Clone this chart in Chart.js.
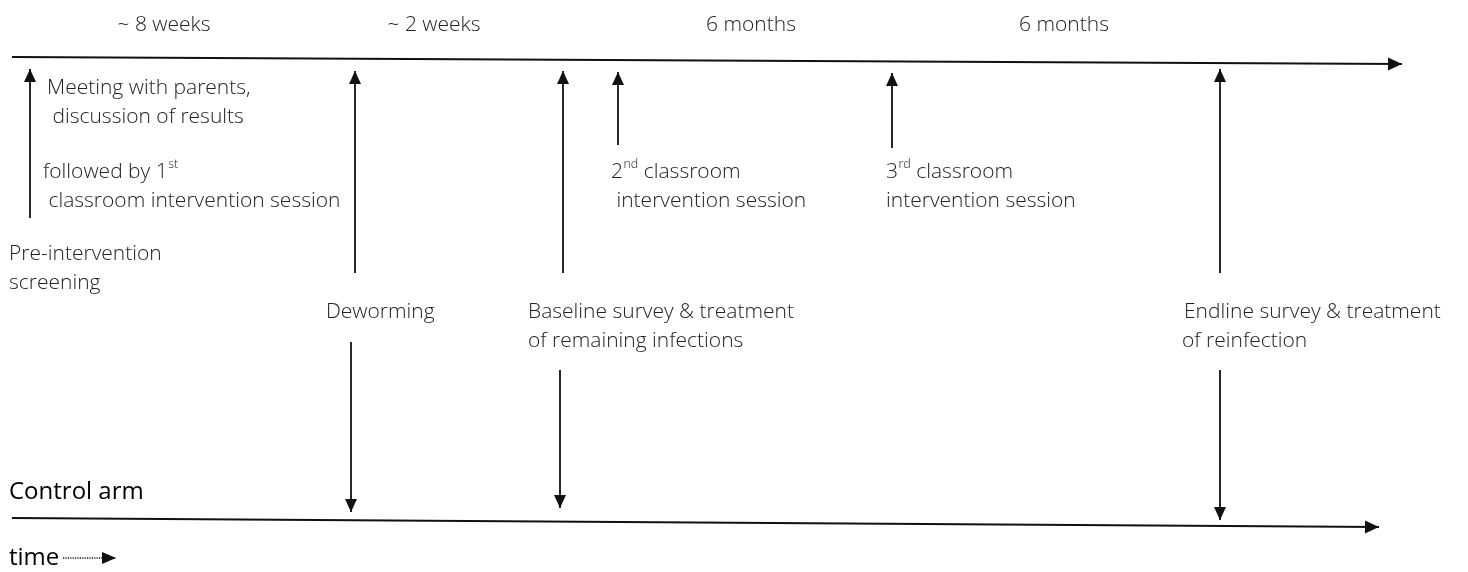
<!DOCTYPE html>
<html>
<head>
<meta charset="utf-8">
<script src="https://cdn.jsdelivr.net/npm/chart.js@4/dist/chart.umd.min.js"></script>
<style>
html,body{margin:0;padding:0;background:#fff;}
#wrap{width:1468px;height:572px;}
</style>
</head>
<body>
<div id="wrap"><canvas id="c" width="1468" height="572"></canvas></div>
<script>
// Diagram space: x 0..1468, y 0..572 (top = 0)
// Timelines [x, y] start and end
const interventionLine = [[12, 57], [1402, 64]];
const controlLine = [[12, 518], [1379, 527]];
const timeArrow = [[63, 558], [116, 558]];

// Upward event arrows (intervention arm)
const upX = [30, 355, 563, 618, 892, 1220];
const upFrom = [218, 273, 273, 145, 148, 273];
const upTo = [69, 71, 71, 72, 73, 69];

// Downward event arrows (control arm)
const downX = [351, 560, 1220];
const downFrom = [342, 370, 370];
const downTo = [512, 508, 520];

// Period labels above the timeline
const periodLabels = ['~ 8 weeks', '~ 2 weeks', '6 months', '6 months'];
const periodX = [164, 434, 751, 1064];
const periodY = [25, 25, 25, 25];

// Event label lines: [text, superscript, text after superscript]
const eventLines = [
  ['Meeting with parents,', '', ''],
  [' discussion of results', '', ''],
  ['followed by 1', 'st', ''],
  [' classroom intervention session', '', ''],
  ['Pre-intervention', '', ''],
  ['screening', '', ''],
  ['2', 'nd', ' classroom'],
  [' intervention session', '', ''],
  ['3', 'rd', ' classroom'],
  ['intervention session', '', ''],
  ['Deworming', '', ''],
  ['Baseline survey & treatment', '', ''],
  ['of remaining infections', '', ''],
  ['Endline survey & treatment', '', ''],
  ['of reinfection', '', '']
];
const eventX = [47, 47, 43, 43, 9, 9, 611, 611, 886, 886, 326, 528, 528, 1184, 1182];
const eventY = [88, 117, 172, 201, 254, 283, 172, 201, 172, 201, 312, 312, 341, 312, 341];

const armLabel = 'Control arm';
const armPos = [9, 492];
const timeLabel = 'time';
const timePos = [9, 558];

const FONT = '"Open Sans", sans-serif';
const INK = '#111';
const BODY = 21;

const datasets = [];
function addLine(pts, width, arrow, dash) {
  datasets.push({
    data: pts.map(p => ({x: p[0], y: p[1]})),
    showLine: true, borderColor: INK, borderWidth: width,
    pointRadius: 0, borderDash: dash || [], arrow: arrow, fill: false, tension: 0
  });
}
addLine(interventionLine, 2.2, [14, 6.5]);
addLine(controlLine, 2.2, [14, 6.5]);
addLine(timeArrow, 1.5, [14, 6], [1.2, 1.2]);
upX.forEach((x, i) => addLine([[x, upFrom[i]], [x, upTo[i]]], 1.8, [13, 6]));
downX.forEach((x, i) => addLine([[x, downFrom[i]], [x, downTo[i]]], 1.8, [13, 6]));

const arrowPlugin = {
  id: 'arrowheads',
  afterDatasetsDraw(chart) {
    const ctx = chart.ctx;
    chart.data.datasets.forEach((ds, i) => {
      if (!ds.arrow) return;
      const pts = chart.getDatasetMeta(i).data;
      const a = pts[pts.length - 2], b = pts[pts.length - 1];
      const ang = Math.atan2(b.y - a.y, b.x - a.x);
      const L = ds.arrow[0], W = ds.arrow[1];
      ctx.save();
      ctx.fillStyle = INK;
      ctx.translate(b.x, b.y);
      ctx.rotate(ang);
      ctx.beginPath();
      ctx.moveTo(0, 0);
      ctx.lineTo(-L, -W);
      ctx.lineTo(-L, W);
      ctx.closePath();
      ctx.fill();
      ctx.restore();
    });
  }
};

const textPlugin = {
  id: 'texts',
  afterDraw(chart) {
    const ctx = chart.ctx;
    const sx = chart.scales.x, sy = chart.scales.y;
    ctx.save();
    ctx.fillStyle = '#222';
    ctx.textBaseline = 'middle';
    ctx.font = '300 ' + BODY + 'px ' + FONT;
    ctx.textAlign = 'center';
    periodLabels.forEach((t, i) => {
      ctx.fillText(t, sx.getPixelForValue(periodX[i]), sy.getPixelForValue(periodY[i]));
    });
    ctx.textAlign = 'left';
    eventLines.forEach((ln, i) => {
      let x = sx.getPixelForValue(eventX[i]);
      const y = sy.getPixelForValue(eventY[i]);
      ctx.font = '300 ' + BODY + 'px ' + FONT;
      ctx.fillText(ln[0], x, y);
      x += ctx.measureText(ln[0]).width;
      if (ln[1]) {
        ctx.font = '300 12.5px ' + FONT;
        ctx.fillText(ln[1], x + 0.5, y - 8);
        x += ctx.measureText(ln[1]).width + 0.5;
      }
      if (ln[2]) {
        ctx.font = '300 ' + BODY + 'px ' + FONT;
        ctx.fillText(ln[2], x, y);
      }
    });
    ctx.fillStyle = '#000';
    ctx.font = '24px ' + FONT;
    ctx.fillText(armLabel, sx.getPixelForValue(armPos[0]), sy.getPixelForValue(armPos[1]));
    ctx.fillText(timeLabel, sx.getPixelForValue(timePos[0]), sy.getPixelForValue(timePos[1]));
    ctx.restore();
  }
};

new Chart(document.getElementById('c'), {
  type: 'scatter',
  data: { datasets },
  options: {
    responsive: false,
    animation: false,
    layout: { padding: 0 },
    plugins: { legend: { display: false }, tooltip: { enabled: false } },
    scales: {
      x: { type: 'linear', min: 0, max: 1468, display: false },
      y: { type: 'linear', min: 0, max: 572, reverse: true, display: false }
    }
  },
  plugins: [arrowPlugin, textPlugin]
});
</script>
</body>
</html>
